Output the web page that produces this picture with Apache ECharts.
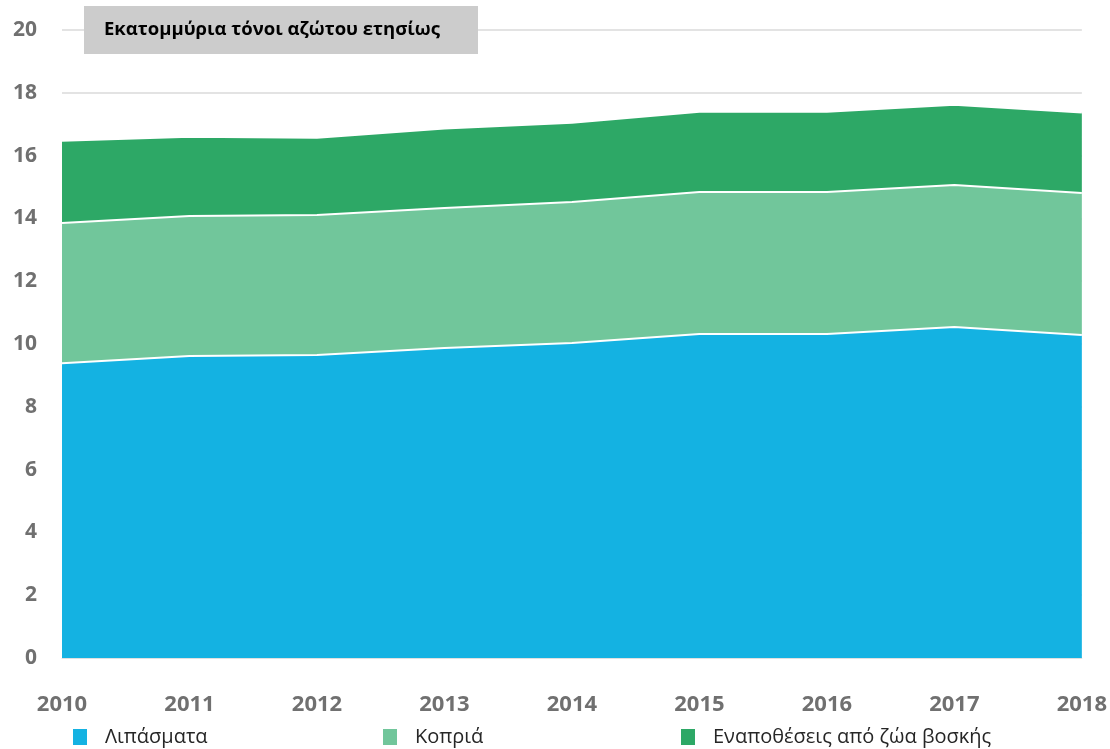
<!DOCTYPE html>
<html><head><meta charset="utf-8">
<script src="https://cdn.jsdelivr.net/npm/echarts@6/dist/echarts.min.js"></script>
<style>html,body{margin:0;padding:0;background:#fff}#c{width:1110px;height:749px}</style>
</head><body><div id="c"></div>
<script>
const years = ['2010','2011','2012','2013','2014','2015','2016','2017','2018'];
const fertilizers = [9.39, 9.62, 9.65, 9.87, 10.03, 10.32, 10.32, 10.54, 10.29];
const manure = [4.46, 4.46, 4.46, 4.46, 4.49, 4.52, 4.52, 4.52, 4.52];
const grazing = [2.62, 2.52, 2.46, 2.53, 2.53, 2.56, 2.56, 2.56, 2.56];
const seriesNames = ['Λιπάσματα', 'Κοπριά', 'Εναποθέσεις από ζώα βοσκής'];
const colors = ['#14b2e2', '#71c69b', '#2da866'];
const titleText = 'Εκατομμύρια τόνοι αζώτου ετησίως';

const chart = echarts.init(document.getElementById('c'));
const mk = (i, data) => ({
  name: seriesNames[i], type: 'line', stack: 'total', data: data,
  symbol: 'none', z: 3 - i,
  lineStyle: {color: '#ffffff', width: 2},
  itemStyle: {color: colors[i]},
  areaStyle: {color: colors[i], opacity: 1},
  emphasis: {disabled: true}
});
const legendBase = {
  top: 722, icon: 'rect', itemWidth: 14, itemHeight: 16, itemGap: 10,
  textStyle: {fontFamily: 'Open Sans', fontSize: 20, color: '#262626', padding: [0,0,0,13]}
};
chart.setOption({
  animation: false,
  graphic: [
    {type: 'rect', z: 100, zlevel: 1, shape: {x: 84, y: 6, width: 394, height: 48}, style: {fill: '#cccccc'}},
    {type: 'text', z: 101, zlevel: 1, x: 104, y: 30, style: {text: titleText, fontFamily: 'Open Sans', fontWeight: 'bold', fontSize: 18.5, fill: '#000000', verticalAlign: 'middle', align: 'left'}}
  ],
  legend: [
    Object.assign({}, legendBase, {left: 68, data: [seriesNames[0]]}),
    Object.assign({}, legendBase, {left: 378, data: [seriesNames[1]]}),
    Object.assign({}, legendBase, {left: 676, data: [seriesNames[2]]})
  ],
  grid: {left: 62, right: 28, top: 30, bottom: 91},
  xAxis: {
    type: 'category', boundaryGap: false, data: years,
    axisLine: {show: true, lineStyle: {color: '#e0e0e0'}},
    axisTick: {show: false},
    axisLabel: {margin: 36, color: '#707070', fontFamily: 'Open Sans', fontWeight: 'bold', fontSize: 22}
  },
  yAxis: {
    type: 'value', min: 0, max: 20, interval: 2,
    axisLine: {show: false}, axisTick: {show: false},
    splitLine: {lineStyle: {color: '#e3e3e3', width: 2}},
    axisLabel: {margin: 25, color: '#707070', fontFamily: 'Open Sans', fontWeight: 'bold', fontSize: 21}
  },
  series: [mk(0, fertilizers), mk(1, manure), mk(2, grazing)]
});
</script></body></html>
